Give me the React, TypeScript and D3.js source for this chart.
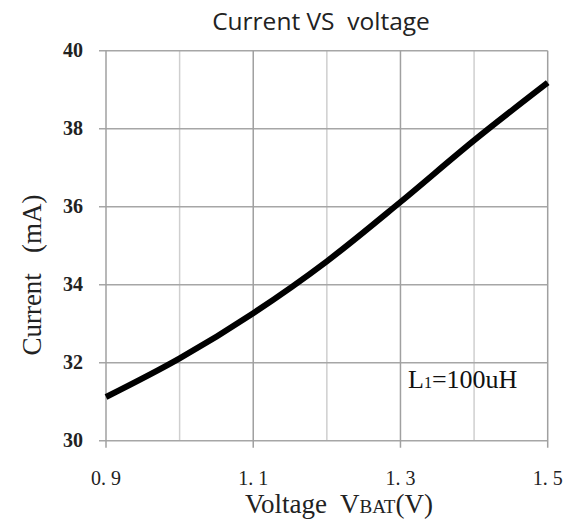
import React from "react";
import * as d3 from "d3";

const voltage = [0.9, 1.0, 1.1, 1.2, 1.3, 1.4, 1.5];
const current = [31.12, 32.11, 33.27, 34.6, 36.12, 37.7, 39.18];
const xMajorTicks = [0.9, 1.1, 1.3, 1.5];
const xMinorTicks = [1.0, 1.2, 1.4];
const xTickLabels = ["0. 9", "1. 1", "1. 3", "1. 5"];
const yTicks = [30, 32, 34, 36, 38, 40];

const W = 577;
const H = 521;
const left = 106;
const right = 547.7;
const top = 50.7;
const bottom = 440.7;

const serif = "'Liberation Serif', 'Times New Roman', serif";

export default function App() {
  const x = d3.scaleLinear().domain([0.9, 1.5]).range([left, right]);
  const y = d3.scaleLinear().domain([30, 40]).range([bottom, top]);
  const pts = voltage.map((v, i) => [v, current[i]] as [number, number]);
  const line = d3
    .line<[number, number]>()
    .x((d) => x(d[0]))
    .y((d) => y(d[1]))
    .curve(d3.curveMonotoneX);

  return (
    <svg
      width={W}
      height={H}
      style={{ position: "absolute", left: 0, top: 0, background: "#fff" }}
    >
      <rect x={0} y={0} width={W} height={H} fill="#fff" />
      {xMinorTicks.map((t) => (
        <line key={"mv" + t} x1={x(t)} x2={x(t)} y1={top} y2={bottom} stroke="#cfcfcf" strokeWidth={1.5} />
      ))}
      {yTicks.map((t) => (
        <line key={"h" + t} x1={left - 7} x2={right} y1={y(t)} y2={y(t)} stroke="#a6a6a6" strokeWidth={1.5} />
      ))}
      {xMajorTicks.map((t) => (
        <line key={"Mv" + t} x1={x(t)} x2={x(t)} y1={top} y2={bottom + 7} stroke="#a0a0a0" strokeWidth={1.5} />
      ))}
      <path d={line(pts) || ""} fill="none" stroke="#000" strokeWidth={6} />
      <text
        x={321}
        y={30}
        textAnchor="middle"
        fontFamily="'Open Sans', 'Noto Sans', sans-serif"
        fontSize={24.5}
        fill="#222"
        style={{ whiteSpace: "pre" }}
      >
        {"Current VS  voltage"}
      </text>
      {yTicks.map((t) => (
        <text
          key={"yl" + t}
          x={83}
          y={y(t) + 6.5}
          textAnchor="end"
          fontFamily={serif}
          fontWeight="bold"
          fontSize={20}
          fill="#222"
        >
          {t}
        </text>
      ))}
      {xMajorTicks.map((t, i) => (
        <text
          key={"xl" + t}
          x={x(t)}
          y={485}
          textAnchor="middle"
          fontFamily={serif}
          fontSize={20}
          fill="#222"
          style={{ whiteSpace: "pre" }}
        >
          {xTickLabels[i]}
        </text>
      ))}
      <text
        x={245}
        y={512.7}
        fontFamily={serif}
        fontSize={27}
        fill="#222"
        style={{ whiteSpace: "pre" }}
      >
        {"Voltage  V"}
        <tspan fontSize={19}>BAT</tspan>
        {"(V)"}
      </text>
      <text
        transform="translate(41,275) rotate(-90)"
        textAnchor="middle"
        fontFamily={serif}
        fontSize={27}
        fill="#222"
        style={{ whiteSpace: "pre" }}
      >
        {"Current   (mA)"}
      </text>
      <text
        x={408}
        y={388}
        fontFamily={serif}
        fontSize={26}
        fill="#111"
      >
        L<tspan fontSize={16}>1</tspan>=100uH
      </text>
    </svg>
  );
}
